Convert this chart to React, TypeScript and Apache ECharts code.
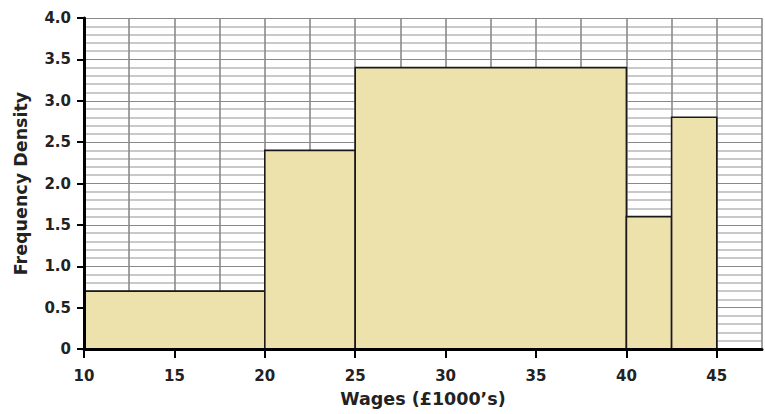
import React, { useEffect, useRef } from "react";
import * as echarts from "echarts";

const binStarts = [10, 20, 25, 40, 42.5];
const binEnds = [20, 25, 40, 42.5, 45];
const densities = [0.7, 2.4, 3.4, 1.6, 2.8];
const xTickValues = [10, 15, 20, 25, 30, 35, 40, 45];
const xAxisName = "Wages (£1000’s)";
const yAxisName = "Frequency Density";

const FONT = "DejaVu Sans, Verdana, sans-serif";

export default function App() {
  const ref = useRef<HTMLDivElement>(null);
  useEffect(() => {
    if (!ref.current) return;
    const chart = echarts.init(ref.current, undefined, { renderer: "svg" });
    const data = binStarts.map((s, i) => [s, binEnds[i], densities[i]]);
    chart.setOption({
      animation: false,
      backgroundColor: "#ffffff",
      grid: { left: 84, top: 18, right: 3, bottom: 65 },
      xAxis: [
        {
          type: "value",
          min: 10,
          max: 47.5,
          interval: 2.5,
          position: "bottom",
          z: 0,
          axisLine: { show: false },
          axisTick: { show: false },
          axisLabel: { show: false },
          splitLine: { show: true, lineStyle: { color: "#8a8a8a", width: 1.6 } },
        },
        {
          type: "value",
          min: 10,
          max: 47.5,
          interval: 2.5,
          position: "bottom",
          z: 10,
          name: xAxisName,
          nameLocation: "middle",
          nameGap: 41,
          nameTextStyle: { fontFamily: FONT, fontWeight: "bold", fontSize: 17.5, color: "#222" },
          axisLine: { show: true, onZero: false, lineStyle: { color: "#000", width: 3 } },
          axisTick: {
            show: true,
            length: 9,
            customValues: xTickValues,
            lineStyle: { color: "#000", width: 2 },
          },
          axisLabel: {
            show: true,
            customValues: xTickValues,
            margin: 19,
            fontFamily: FONT,
            fontWeight: "bold",
            fontSize: 15,
            color: "#222",
          },
          splitLine: { show: false },
        },
      ],
      yAxis: [
        {
          type: "value",
          min: 0,
          max: 4,
          interval: 0.5,
          position: "left",
          z: 0,
          axisLine: { show: false },
          axisTick: { show: false },
          axisLabel: { show: false },
          splitLine: { show: true, lineStyle: { color: "#8a8a8a", width: 1.2 } },
          minorTick: { show: false, splitNumber: 5 },
          minorSplitLine: { show: true, lineStyle: { color: "#c9c9c9", width: 2 } },
        },
        {
          type: "value",
          min: 0,
          max: 4,
          interval: 0.5,
          position: "left",
          z: 10,
          name: yAxisName,
          nameLocation: "middle",
          nameGap: 54,
          nameRotate: 90,
          nameTextStyle: { fontFamily: FONT, fontWeight: "bold", fontSize: 17.5, color: "#222" },
          axisLine: { show: true, onZero: false, lineStyle: { color: "#000", width: 3 } },
          axisTick: { show: true, length: 7, lineStyle: { color: "#000", width: 2 } },
          axisLabel: {
            show: true,
            margin: 13,
            fontFamily: FONT,
            fontWeight: "bold",
            fontSize: 15,
            color: "#222",
            formatter: (v: number) => (v === 0 ? "0" : v.toFixed(1)),
          },
          splitLine: { show: false },
        },
      ],
      series: [
        {
          type: "custom",
          xAxisIndex: 0,
          yAxisIndex: 0,
          z: 5,
          data,
          encode: { x: [0, 1], y: 2 },
          renderItem: (params: any, api: any) => {
            const p0 = api.coord([api.value(0), api.value(2)]);
            const p1 = api.coord([api.value(1), 0]);
            return {
              type: "rect",
              shape: { x: p0[0], y: p0[1], width: p1[0] - p0[0], height: p1[1] - p0[1] },
              style: { fill: "#EEE2AC", stroke: "#1a1a1a", lineWidth: 1.6 },
            };
          },
        },
      ],
    });
    return () => chart.dispose();
  }, []);
  return (
    <div
      ref={ref}
      style={{ position: "fixed", left: 0, top: 0, width: 765, height: 414 }}
    />
  );
}
